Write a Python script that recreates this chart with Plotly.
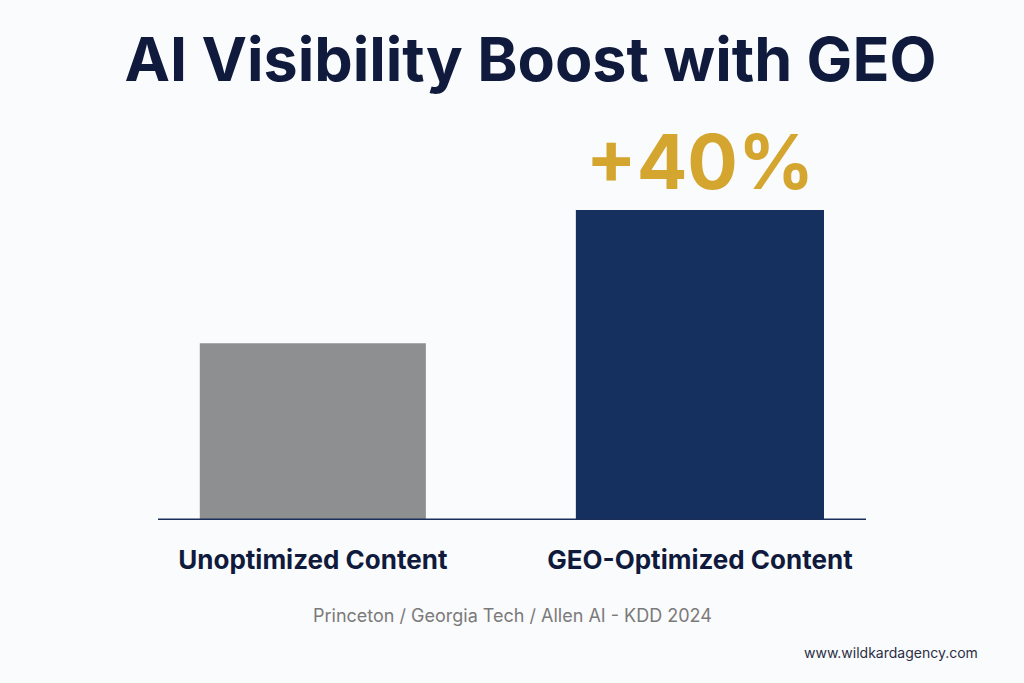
import plotly.graph_objects as go

categories = ["Unoptimized Content", "GEO-Optimized Content"]
values = [57, 100]
bar_labels = ["", "+40%"]
bar_colors = ["#8e8f91", "#15305e"]
bar_widths = [0.584, 0.641]

title = "AI Visibility Boost with GEO"
source = "Princeton / Georgia Tech / Allen AI - KDD 2024"
watermark = "www.wildkardagency.com"

bg = "#fafbfc"
navy_text = "#0f1a3d"

fig = go.Figure()
fig.add_trace(go.Bar(
    x=[0, 1], y=values, width=bar_widths,
    marker=dict(color=bar_colors, line=dict(width=0)),
    text=bar_labels, textposition="outside",
    textfont=dict(family="Inter", size=75, color="#d4a52f", weight=700),
    cliponaxis=False, hoverinfo="skip",
))

fig.update_layout(
    width=1024, height=683,
    paper_bgcolor=bg, plot_bgcolor=bg,
    margin=dict(l=158, r=158, t=100, b=163),
    showlegend=False,
    title=dict(text="<b>" + title + "</b>", x=0.518, xanchor="center", y=0.912, yanchor="middle",
               font=dict(family="Inter", size=61, color=navy_text)),
    xaxis=dict(range=[-0.4, 1.429], tickmode="array", tickvals=[0, 1], ticktext=["<b>%s</b>" % c for c in categories],
               tickfont=dict(family="Inter", size=26, color=navy_text),
               showgrid=False, zeroline=False, showline=False, ticks="", ticklabelstandoff=22),
    yaxis=dict(range=[0, 135.5], visible=False, showgrid=False, zeroline=False),
    shapes=[dict(type="line", xref="paper", yref="y", x0=0, x1=1, y0=0, y1=0,
                 line=dict(color="#1a2f5a", width=3))],
    annotations=[
        dict(text=source, xref="paper", yref="paper", x=0.5, y=-0.228, xanchor="center", yanchor="middle",
             showarrow=False, font=dict(family="Inter", size=18, color="#7a7a7a")),
        dict(text=watermark, xref="paper", yref="paper", x=1.161, y=-0.315, xanchor="right", yanchor="middle",
             showarrow=False, font=dict(family="Inter", size=14, color="#2a2e45")),
    ],
)

fig.write_html("out.html")
